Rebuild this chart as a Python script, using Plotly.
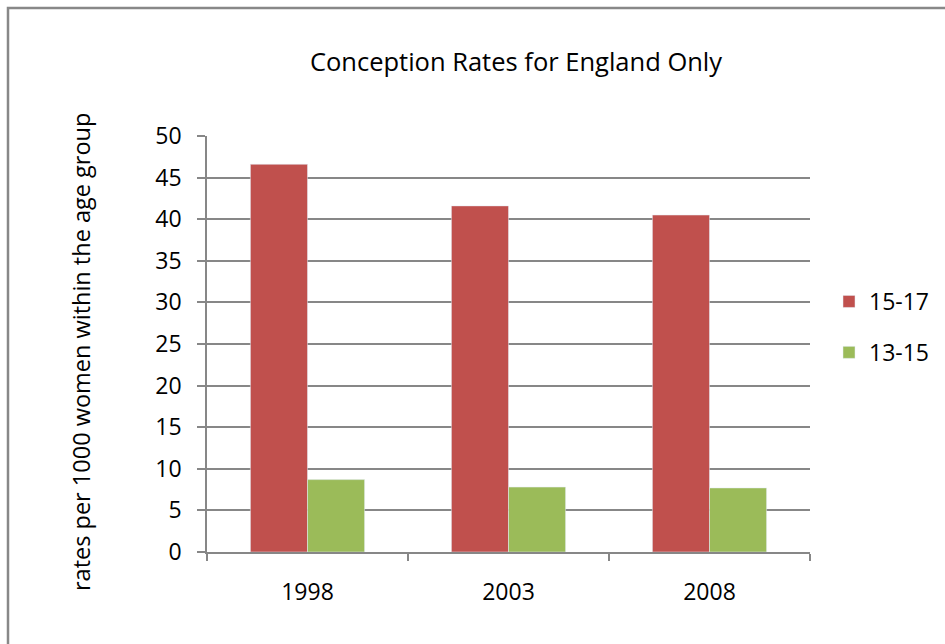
import plotly.graph_objects as go

years = ["1998", "2003", "2008"]
rate_15_17 = [46.6, 41.6, 40.5]
rate_13_15 = [8.7, 7.8, 7.7]
y_ticks = [0, 5, 10, 15, 20, 25, 30, 35, 40, 45, 50]

FONT = "Open Sans"
GRID = "#878787"

fig = go.Figure()
fig.add_trace(go.Bar(x=years, y=rate_15_17, name="15-17", marker_color="#C0504D",
                     legendgroup="a"))
fig.add_trace(go.Bar(x=years, y=rate_13_15, name="13-15", marker_color="#9BBB59",
                     legendgroup="b"))

W, H = 945, 644
L, R, T, B = 207, 135, 136, 92
pw, ph = W - L - R, H - T - B

fig.update_layout(
    width=W, height=H,
    margin=dict(l=L, r=R, t=T, b=B, autoexpand=False),
    paper_bgcolor="white", plot_bgcolor="white",
    barmode="group", bargap=0.432, bargroupgap=0,
    font=dict(family=FONT, color="black", size=23),
    title=dict(text="Conception Rates for England Only", x=(516) / W, xanchor="center",
               y=1 - 62 / H, yanchor="middle", font=dict(size=25.5, family=FONT)),
    showlegend=True,
    legend=dict(x=(829 - L) / pw, xanchor="left", y=(H - B - 327) / ph, yanchor="middle",
                font=dict(size=23), tracegroupgap=18, traceorder="grouped",
                itemwidth=30, bgcolor="rgba(0,0,0,0)"),
    xaxis=dict(showline=True, linecolor=GRID, linewidth=1.5, ticks="outside",
               tickson="boundaries", ticklen=7, tickcolor=GRID, tickwidth=1.5,
               showgrid=False, ticklabelstandoff=19),
    yaxis=dict(range=[0, 50], tickvals=y_ticks, showline=True, linecolor=GRID,
               linewidth=1.5, ticks="outside", ticklen=8, tickcolor=GRID, tickwidth=1.5,
               showgrid=True, gridcolor=GRID, gridwidth=1.5, zeroline=False,
               ticklabelstandoff=11),
    annotations=[dict(text="rates per 1000 women within the age group", textangle=-90,
                      xref="paper", yref="paper", x=(81 - L) / pw, y=(H - B - 352) / ph,
                      xanchor="center", yanchor="middle", showarrow=False,
                      font=dict(size=23.5, family=FONT))],
    shapes=[dict(type="rect", xref="paper", yref="paper",
                 x0=(8 - L) / pw, x1=(W + 30 - L) / pw,
                 y0=(H - B - (H + 30)) / ph, y1=(H - B - 8) / ph,
                 line=dict(color="#888888", width=2.5), fillcolor="rgba(0,0,0,0)",
                 layer="below")],
)

fig.write_html("out.html")
